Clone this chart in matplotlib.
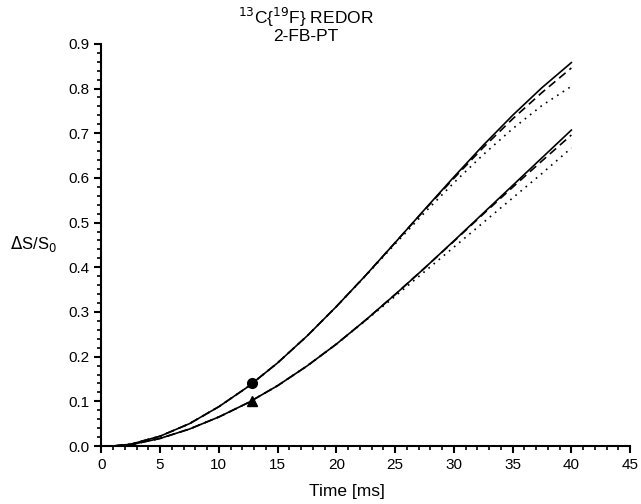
import matplotlib
matplotlib.use('Agg')
import matplotlib.pyplot as plt
from matplotlib.ticker import MultipleLocator

plt.rcParams['font.family'] = ['Liberation Sans', 'DejaVu Sans']

# time axis (ms)
t = [0, 1, 2.5, 5, 7.5, 10, 12.5, 15, 17.5, 20, 22.5, 25, 27.5, 30, 32.5, 35, 37.5, 40]

# upper set (circle)
up_solid = [0, 0, 0.004, 0.022, 0.050, 0.088, 0.133, 0.186, 0.246, 0.312, 0.382, 0.455,
            0.529, 0.602, 0.673, 0.740, 0.802, 0.858]
up_dash = [0, 0, 0.004, 0.022, 0.050, 0.088, 0.133, 0.186, 0.246, 0.312, 0.382, 0.455,
           0.528, 0.599, 0.668, 0.732, 0.791, 0.846]
up_dot = [0, 0, 0.004, 0.022, 0.050, 0.088, 0.133, 0.186, 0.246, 0.312, 0.381, 0.452,
          0.522, 0.589, 0.652, 0.710, 0.762, 0.805]

# lower set (triangle)
lo_solid = [0, 0, 0.003, 0.017, 0.038, 0.065, 0.097, 0.135, 0.179, 0.228, 0.282, 0.339,
            0.398, 0.459, 0.521, 0.583, 0.645, 0.707]
lo_dash = [0, 0, 0.003, 0.017, 0.038, 0.065, 0.097, 0.135, 0.179, 0.228, 0.282, 0.339,
           0.398, 0.458, 0.519, 0.579, 0.638, 0.696]
lo_dot = [0, 0, 0.003, 0.017, 0.038, 0.065, 0.097, 0.135, 0.179, 0.228, 0.281, 0.335,
          0.390, 0.445, 0.500, 0.555, 0.610, 0.667]

# experimental points
pt_t = [12.8, 12.8]
pt_y = [0.14, 0.10]


def main():
    fig = plt.figure(figsize=(6.41, 5.04), dpi=100)
    ax = fig.add_axes([0.158, 0.115, 0.825, 0.798])

    lw = 1.2
    ax.plot(t, up_solid, color='black', lw=lw)
    ax.plot(t, up_dash, color='black', lw=lw, dashes=(5, 3))
    ax.plot(t, up_dot, color='black', lw=lw, linestyle=(0, (1, 3)))
    ax.plot(t, lo_solid, color='black', lw=lw)
    ax.plot(t, lo_dash, color='black', lw=lw, dashes=(5, 3))
    ax.plot(t, lo_dot, color='black', lw=lw, linestyle=(0, (1, 3)))

    ax.plot(pt_t[0], pt_y[0], 'o', color='black', ms=7)
    ax.plot(pt_t[1], pt_y[1], '^', color='black', ms=7)

    ax.set_xlim(0, 45)
    ax.set_ylim(0, 0.9)
    ax.xaxis.set_major_locator(MultipleLocator(5))
    ax.xaxis.set_minor_locator(MultipleLocator(1))
    ax.yaxis.set_major_locator(MultipleLocator(0.1))
    ax.yaxis.set_minor_locator(MultipleLocator(0.02))
    ax.set_yticks(ax.get_yticks())
    ax.set_yticklabels(['%.1f' % v for v in ax.get_yticks()])
    ax.set_ylim(0, 0.9)

    ax.spines['top'].set_visible(False)
    ax.spines['right'].set_visible(False)
    for s in ('left', 'bottom'):
        ax.spines[s].set_linewidth(1.5)
    ax.tick_params(which='major', direction='out', length=5, width=1.5, labelsize=11)
    ax.tick_params(which='minor', direction='out', length=3, width=1.2)

    ax.set_xlabel('Time [ms]', fontsize=12.5)
    ax.xaxis.set_label_coords(0.465, -0.095)
    fig.text(0.053, 0.515, r'$\Delta$S/S$_0$', fontsize=12, ha='center', va='center')

    fig.text(0.477, 0.966, r'$^{13}$C{$^{19}$F} REDOR', fontsize=12.5, ha='center', va='center')
    fig.text(0.477, 0.927, '2-FB-PT', fontsize=12.5, ha='center', va='center')

    fig.savefig('out.png', dpi=100)


if __name__ == "__main__":
    main()
